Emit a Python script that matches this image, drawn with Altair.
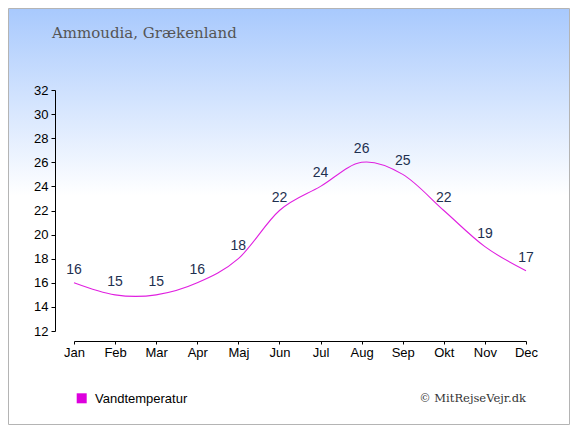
import altair as alt
import pandas as pd

months = ["Jan", "Feb", "Mar", "Apr", "Maj", "Jun", "Jul", "Aug", "Sep", "Okt", "Nov", "Dec"]
temps = [16, 15, 15, 16, 18, 22, 24, 26, 25, 22, 19, 17]
y_ticks = list(range(12, 33, 2))
title_text = "Ammoudia, Grækenland"
legend_text = "Vandtemperatur"
credit_text = "© MitRejseVejr.dk"

W, H = 452, 241
PL, PT, PR, PB = 66, 82, 44, 94

df = pd.DataFrame({"month": months, "temp": temps})
one = pd.DataFrame({"t": [0]})

bg = alt.Chart(one).mark_rect(
    fill=alt.Gradient(
        gradient="linear",
        stops=[alt.GradientStop(color="#a8c9fd", offset=0),
               alt.GradientStop(color="#ffffff", offset=0.45),
               alt.GradientStop(color="#ffffff", offset=1)],
        x1=0, x2=0, y1=0, y2=1),
    stroke="#b4b4b4", strokeWidth=1,
).encode(x=alt.value(-PL + 0.5), x2=alt.value(W + PR - 0.5),
         y=alt.value(-PT + 0.5), y2=alt.value(H + PB - 0.5))

xenc = alt.X("month:O", sort=months, scale=alt.Scale(type="point", padding=0),
             axis=alt.Axis(title=None, labelAngle=0, offset=10, tickSize=3, labelPadding=2,
                           domainColor="black", tickColor="black", labelColor="black",
                           labelFont="Liberation Sans", labelFontSize=13, zindex=1,
                           labelOverlap=False))
yenc = alt.Y("temp:Q", scale=alt.Scale(domain=[12, 32], nice=False, zero=False),
             axis=alt.Axis(title=None, values=y_ticks, offset=19, tickSize=4, labelPadding=3,
                           grid=False, domainColor="black", tickColor="black",
                           labelColor="black", labelFont="Liberation Sans", labelFontSize=13,
                           zindex=1, labelOverlap=False, labelFlush=False))

line = alt.Chart(df).mark_line(color="#e020e0", strokeWidth=1.1, interpolate="cardinal").encode(
    x=xenc, y=yenc)

labels = alt.Chart(df).mark_text(
    font="Liberation Sans", fontSize=14, color="#1e3050", baseline="alphabetic", dy=-9
).encode(x=xenc, y=yenc, text="temp:Q")

title = alt.Chart(pd.DataFrame({"t": [title_text]})).mark_text(
    font="DejaVu Serif", fontSize=15, color="#555555", align="left", baseline="alphabetic"
).encode(x=alt.value(-22), y=alt.value(-52), text="t:N")

leg_sq = alt.Chart(pd.DataFrame({"t": [legend_text]})).mark_square(
    size=100, color="#dd00dd", opacity=1
).encode(x=alt.value(7.7), y=alt.value(308.3))

leg_txt = alt.Chart(pd.DataFrame({"t": [legend_text]})).mark_text(
    font="Liberation Sans", fontSize=13, color="black", align="left", baseline="alphabetic"
).encode(x=alt.value(21), y=alt.value(313), text="t:N")

credit = alt.Chart(pd.DataFrame({"t": [credit_text]})).mark_text(
    font="DejaVu Serif", fontSize=11.5, color="#333333", align="right", baseline="alphabetic"
).encode(x=alt.value(W), y=alt.value(311.5), text="t:N")

chart = alt.layer(bg, line, labels, title, leg_sq, leg_txt, credit).properties(
    width=W, height=H,
    autosize=alt.AutoSizeParams(type="none"),
    padding={"left": PL, "top": PT, "right": PR, "bottom": PB},
).configure_view(stroke=None)

chart.save("out.html", embed_options={"renderer": "svg", "actions": False})
